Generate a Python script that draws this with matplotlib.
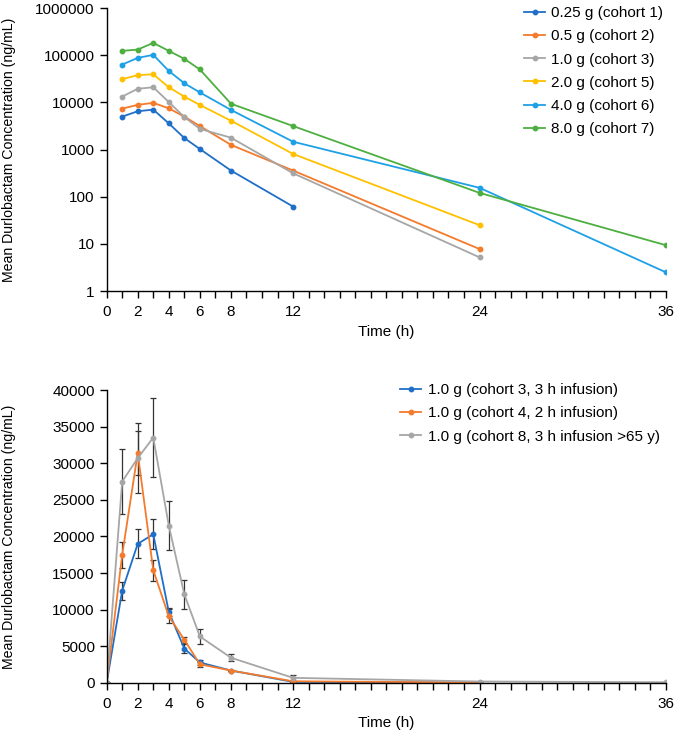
import matplotlib.pyplot as plt
from matplotlib.ticker import FixedLocator, MultipleLocator, FixedFormatter, NullFormatter

plt.rcParams['font.family'] = ['Liberation Sans', 'DejaVu Sans']
plt.rcParams['font.size'] = 11

# Top panel: single ascending doses (log scale)
t_top = [1, 2, 3, 4, 5, 6, 8, 12, 24, 36]
dose_labels = ['0.25 g (cohort 1)', '0.5 g (cohort 2)', '1.0 g (cohort 3)',
               '2.0 g (cohort 5)', '4.0 g (cohort 6)', '8.0 g (cohort 7)']
conc_025 = [5000, 6500, 7050, 3600, 1760, 1030, 360, 62]
conc_05 = [7400, 8900, 9800, 7500, 5000, 3160, 1260, 360, 7.8]
conc_10 = [13300, 19500, 21000, 10200, 4900, 2750, 1790, 315, 5.2]
conc_20 = [31000, 38000, 39500, 21000, 13300, 8850, 4100, 810, 25]
conc_40 = [63500, 88000, 102000, 46500, 25500, 16300, 6950, 1470, 155, 2.5]
conc_80 = [124000, 132000, 183000, 124000, 84000, 50000, 9400, 3160, 121, 9.4]
top_series = [conc_025, conc_05, conc_10, conc_20, conc_40, conc_80]
top_colors = ['#1f6fc8', '#f47a2c', '#a6a6a6', '#ffc000', '#1ea0e6', '#4caf3f']

# Bottom panel: 1.0 g cohorts (linear scale)
t_bot = [0, 1, 2, 3, 4, 5, 6, 8, 12, 24, 36]
bot_labels = ['1.0 g (cohort 3, 3 h infusion)', '1.0 g (cohort 4, 2 h infusion)',
              '1.0 g (cohort 8, 3 h infusion >65 y)']
c3_mean = [0, 12600, 19000, 20300, 9700, 4700, 2800, 1700, 150, 40]
c3_sd = [0, 1250, 2000, 2050, 600, 650, 350, 0, 0, 0]
c4_mean = [0, 17500, 31400, 15400, 9100, 5900, 2550, 1700, 230, 60]
c4_sd = [0, 1750, 3000, 1450, 950, 400, 350, 0, 0, 0]
c8_mean = [0, 27500, 30700, 33500, 21500, 12100, 6350, 3450, 700, 200, 100]
c8_sd = [0, 4400, 4800, 5400, 3400, 2000, 1050, 480, 400, 0, 0]
bot_means = [c3_mean, c4_mean, c8_mean]
bot_sds = [c3_sd, c4_sd, c8_sd]
bot_colors = ['#1f6fc8', '#f47a2c', '#a6a6a6']

x_major = [0, 2, 4, 6, 8, 12, 24, 36]
ylabel = 'Mean Durlobactam Concentration (ng/mL)'

fig = plt.figure(figsize=(6.75, 7.37), dpi=100)
ax1 = fig.add_axes([0.158, 0.605, 0.8286, 0.384])
ax2 = fig.add_axes([0.158, 0.0733, 0.8286, 0.3975])


def style_axes(ax):
    for s in ['top', 'right']:
        ax.spines[s].set_visible(False)
    for s in ['left', 'bottom']:
        ax.spines[s].set_linewidth(1.0)
    ax.set_xlim(0, 36)
    ax.xaxis.set_major_locator(FixedLocator(x_major))
    ax.xaxis.set_minor_locator(MultipleLocator(1))
    ax.xaxis.set_minor_formatter(NullFormatter())
    ax.tick_params(axis='both', which='both', direction='out', length=5, width=1.0)
    ax.tick_params(axis='x', pad=5)
    ax.set_xlabel('Time (h)', labelpad=4)
    ax.set_ylabel(ylabel, fontsize=10.2)
    ax.yaxis.set_label_coords(-0.162, 0.5)


# top panel
for vals, lab, col in zip(top_series, dose_labels, top_colors):
    ax1.plot(t_top[:len(vals)], vals, color=col, lw=1.3, marker='o', ms=3.2, label=lab)
ax1.set_yscale('log')
ax1.set_ylim(1, 1000000)
ax1.yaxis.set_major_locator(FixedLocator([1, 10, 100, 1000, 10000, 100000, 1000000]))
ax1.yaxis.set_major_formatter(FixedFormatter(['1', '10', '100', '1000', '10000', '100000', '1000000']))
ax1.yaxis.set_minor_locator(FixedLocator([]))
style_axes(ax1)
ax1.legend(loc='upper right', bbox_to_anchor=(1.02, 1.055), frameon=False,
           handlelength=1.4, labelspacing=0.6, handletextpad=0.4)

# bottom panel
for m, sd, lab, col in zip(bot_means, bot_sds, bot_labels, bot_colors):
    n = len(m)
    ax2.errorbar(t_bot[:n], m, yerr=sd[:n], color=col, lw=1.3, marker='o', ms=3.2,
                 ecolor='#333333', elinewidth=0.9, capsize=2.5, capthick=0.9, label=lab)
ax2.set_ylim(0, 40000)
ax2.yaxis.set_major_locator(MultipleLocator(5000))
style_axes(ax2)
handles, labels = ax2.get_legend_handles_labels()
ax2.legend([h[0] for h in handles], labels, loc='upper left', bbox_to_anchor=(0.5, 1.07),
           frameon=False, handlelength=1.4, labelspacing=0.6, handletextpad=0.4)

fig.savefig('out.png', dpi=100)
